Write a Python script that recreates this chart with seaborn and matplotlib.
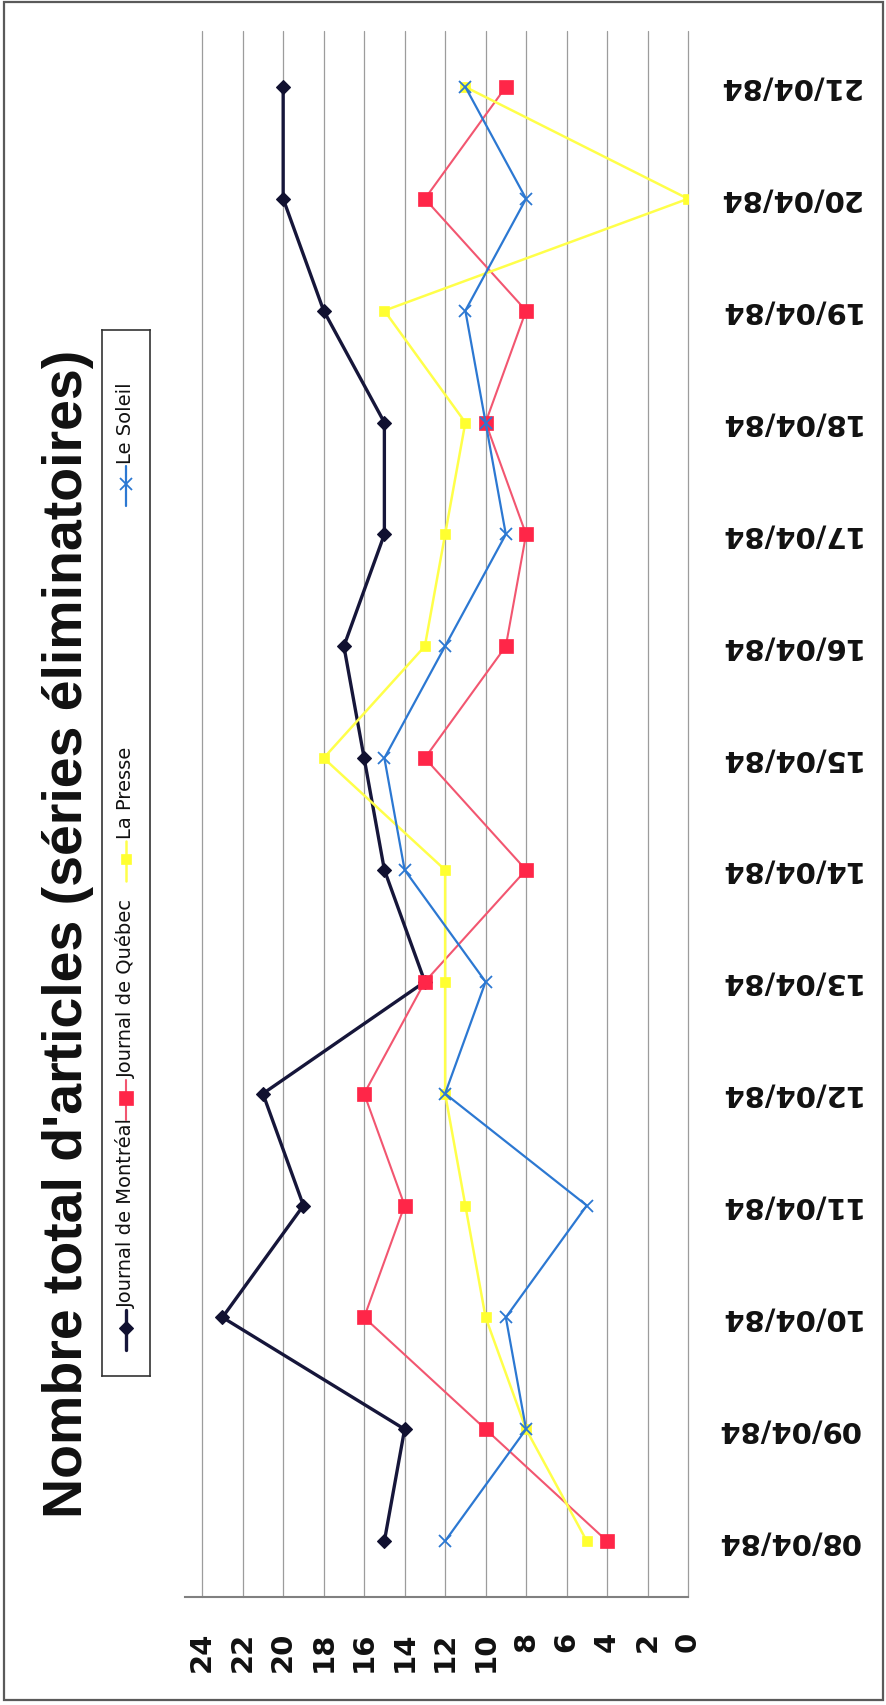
import numpy as np
import pandas as pd
import matplotlib
matplotlib.use("Agg")
import matplotlib.pyplot as plt
import seaborn as sns
from matplotlib.patches import Rectangle

# Daily article counts during the playoffs, one list per newspaper
dates = ["08/04/84", "09/04/84", "10/04/84", "11/04/84", "12/04/84", "13/04/84",
         "14/04/84", "15/04/84", "16/04/84", "17/04/84", "18/04/84", "19/04/84",
         "20/04/84", "21/04/84"]
montreal = [15, 14, 23, 19, 21, 13, 15, 16, 17, 15, 15, 18, 20, 20]
quebec = [4, 10, 16, 14, 16, 13, 8, 13, 9, 8, 10, 8, 13, 9]
presse = [5, 8, 10, 11, 12, 12, 12, 18, 13, 12, 11, 15, 0, 11]
soleil = [12, 8, 9, 5, 12, 10, 14, 15, 12, 9, 10, 11, 8, 11]
journals = ["Journal de Montréal", "Journal de Québec", "La Presse", "Le Soleil"]
value_ticks = list(range(0, 25, 2))
title = "Nombre total d'articles (séries éliminatoires)"

df = pd.DataFrame({
    "date": dates * 4,
    "pos": list(range(len(dates))) * 4,
    "articles": montreal + quebec + presse + soleil,
    "journal": np.repeat(journals, len(dates)),
})

styles = {
    "Journal de Montréal": dict(color="#16163a", marker="D", markersize=7, linewidth=2.4,
                                markerfacecolor="#101030", markeredgecolor="#101030",
                                markeredgewidth=0.8),
    "Journal de Québec": dict(color="#f25670", marker="s", markersize=10, linewidth=1.5,
                              markerfacecolor="#ff2648", markeredgecolor="#ff2648",
                              markeredgewidth=0.5),
    "La Presse": dict(color="#ffff4a", marker="s", markersize=7, linewidth=1.8,
                      markerfacecolor="#ffff30", markeredgecolor="#ffff30",
                      markeredgewidth=0.5),
    "Le Soleil": dict(color="#2c78d2", marker="x", markersize=9, linewidth=1.6,
                      markerfacecolor="#2c78d2", markeredgecolor="#2c78d2",
                      markeredgewidth=1.3),
}

sns.set_style("white")
plt.rcParams["font.family"] = ["DejaVu Sans"]

W, H = 886, 1705
fig = plt.figure(figsize=(W / 100, H / 100), dpi=100)

# Plot area: values run right-to-left, dates run bottom-to-top
ax = fig.add_axes([185 / W, (H - 1597) / H, (688 - 185) / W, (1597 - 31) / H])
for name in journals:
    sub = df[df["journal"] == name]
    sns.lineplot(data=sub, x="articles", y="pos", orient="y", errorbar=None,
                 legend=False, ax=ax, **styles[name])

ax.set_xlim(24.85, 0)
ax.set_ylim(-0.5, len(dates) - 0.5)
ax.set_xticks(value_ticks)
ax.set_xticklabels([str(v) for v in value_ticks])
ax.set_yticks(range(len(dates)))
ax.set_yticklabels(dates)
ax.yaxis.tick_right()
ax.set_xlabel("")
ax.set_ylabel("")
ax.grid(axis="x", color="#9c9c9c", linewidth=0.9)
ax.grid(axis="y", visible=False)
for gl in ax.get_xgridlines():
    gl.set_clip_on(False)
ax.set_axisbelow(True)
for side in ["left", "top", "right"]:
    ax.spines[side].set_visible(False)
ax.spines["bottom"].set_color("#808080")
ax.spines["bottom"].set_linewidth(1.5)
ax.tick_params(axis="x", length=0, pad=25, labelsize=21, labelrotation=90,
               labelcolor="#111111")
ax.tick_params(axis="y", length=0, pad=21, labelsize=21, labelrotation=180,
               labelcolor="#111111", left=False, right=False)
for lab in ax.get_xticklabels() + ax.get_yticklabels():
    lab.set_fontweight("bold")
for lab in ax.get_yticklabels():
    lab.set_verticalalignment("center")
    lab.set_horizontalalignment("left")

# Title, written vertically along the left edge
fig.text(68 / W, 1 - 934 / H, title, rotation=90, ha="center", va="center",
         fontsize=40, fontweight="bold", family=["Liberation Sans", "DejaVu Sans"],
         color="#111111")

# Legend box with vertical entries
box_top, box_bottom, box_left, box_right = 330, 1376, 102, 150
lax = fig.add_axes([box_left / W, (H - box_bottom) / H,
                    (box_right - box_left) / W, (box_bottom - box_top) / H])
lax.set_xlim(0, box_right - box_left)
lax.set_ylim(box_bottom - box_top, 0)
lax.set_xticks([])
lax.set_yticks([])
for sp in lax.spines.values():
    sp.set_visible(True)
    sp.set_color("#333333")
    sp.set_linewidth(1.2)
lax.patch.set_alpha(0)
entry_rows = [1328, 1098, 859, 484]
for name, row in zip(journals, entry_rows):
    st = styles[name]
    r = row - box_top
    lax.plot([24, 24], [r - 18, r + 22], color=st["color"], linewidth=st["linewidth"])
    lax.plot([24], [r], linestyle="none", marker=st["marker"],
             markersize=st["markersize"], markerfacecolor=st["markerfacecolor"],
             markeredgecolor=st["markeredgecolor"], markeredgewidth=st["markeredgewidth"])
    lax.text(24, r - 20, name, rotation=90, ha="center", va="bottom",
             fontsize=14, color="#111111")

# Outer frame around the whole chart
fig.patches.append(Rectangle((4 / W, 5 / H), 879 / W, 1698 / H, transform=fig.transFigure,
                             fill=False, edgecolor="#5a5a5a", linewidth=1.6))

fig.savefig("out.png", dpi=100)
